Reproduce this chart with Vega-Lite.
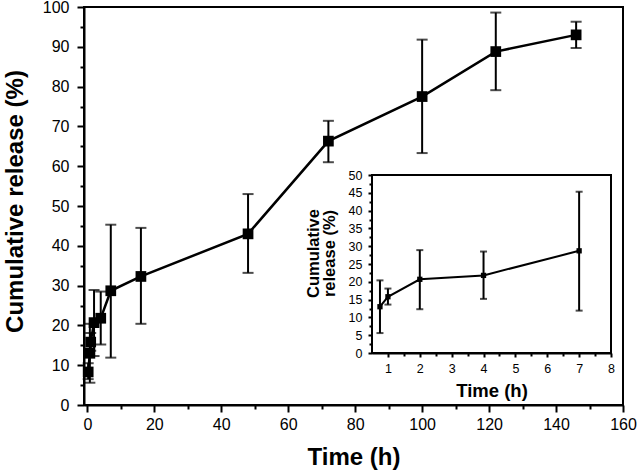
{
  "$schema": "https://vega.github.io/schema/vega-lite/v6.json",
  "width": 539,
  "height": 398,
  "autosize": {"type": "none"},
  "padding": {"left": 84, "top": 7, "right": 15, "bottom": 71},
  "background": "white",
  "config": {
    "view": {"stroke": "black", "strokeWidth": 2},
    "axis": {
      "grid": false,
      "domainColor": "black",
      "domainWidth": 2,
      "tickColor": "black",
      "tickWidth": 2,
      "labelColor": "black",
      "labelFont": "Liberation Sans",
      "titleFont": "Liberation Sans",
      "titleColor": "black",
      "titleFontWeight": "bold",
      "labelFlush": false,
      "labelOverlap": false
    }
  },
  "data": {
    "values": [
      {"t": 0.25, "r": 8.3, "lo": 6.5, "hi": 10.5},
      {"t": 0.75, "r": 13.0, "lo": 5.6, "hi": 20.4},
      {"t": 1, "r": 15.8, "lo": 13.6, "hi": 18.1},
      {"t": 2, "r": 20.7, "lo": 12.3, "hi": 28.9},
      {"t": 4, "r": 21.8, "lo": 15.2, "hi": 28.5},
      {"t": 7, "r": 28.7, "lo": 11.9, "hi": 45.3},
      {"t": 16, "r": 32.3, "lo": 20.4, "hi": 44.5},
      {"t": 48, "r": 43.0, "lo": 33.2, "hi": 53.0},
      {"t": 72, "r": 66.3, "lo": 61.0, "hi": 71.4},
      {"t": 100, "r": 77.5, "lo": 63.3, "hi": 91.8},
      {"t": 122, "r": 88.8, "lo": 79.1, "hi": 98.6},
      {"t": 146, "r": 93.0, "lo": 89.7, "hi": 96.3}
    ]
  },
  "layer": [
    {
      "encoding": {
        "x": {
          "field": "t", "type": "quantitative",
          "scale": {"domain": [-1, 160], "nice": false, "zero": false},
          "axis": {
            "orient": "bottom",
            "values": [0, 10, 20, 30, 40, 50, 60, 70, 80, 90, 100, 110, 120, 130, 140, 150, 160],
            "labelExpr": "datum.value % 20 === 0 ? datum.label : ''",
            "tickSize": {"condition": {"test": "datum.value % 20 === 0", "value": 7}, "value": 4},
            "labelFontSize": 16, "labelPadding": 4,
            "title": "Time (h)", "titleFontSize": 24,
            "titleBaseline": "alphabetic", "titleY": 59
          }
        },
        "y": {
          "field": "r", "type": "quantitative",
          "scale": {"domain": [0, 100], "nice": false, "zero": false},
          "axis": {
            "orient": "left",
            "values": [0, 5, 10, 15, 20, 25, 30, 35, 40, 45, 50, 55, 60, 65, 70, 75, 80, 85, 90, 95, 100],
            "labelExpr": "datum.value % 10 === 0 ? datum.label : ''",
            "tickSize": {"condition": {"test": "datum.value % 10 === 0", "value": 7}, "value": 4},
            "labelFontSize": 16, "labelPadding": 8,
            "title": "Cumulative release (%)", "titleFontSize": 24,
            "titleBaseline": "alphabetic", "titleX": -62, "titleY": 194
          }
        }
      },
      "layer": [
        {
          "mark": {"type": "rule", "color": "black", "strokeWidth": 2},
          "encoding": {
            "y": {
              "field": "lo", "type": "quantitative",
              "scale": {"domain": [0, 100], "nice": false, "zero": false},
              "axis": {
                "orient": "left",
                "values": [0, 5, 10, 15, 20, 25, 30, 35, 40, 45, 50, 55, 60, 65, 70, 75, 80, 85, 90, 95, 100],
                "labelExpr": "datum.value % 10 === 0 ? datum.label : ''",
                "tickSize": {"condition": {"test": "datum.value % 10 === 0", "value": 7}, "value": 4},
                "labelFontSize": 16, "labelPadding": 8,
                "title": "Cumulative release (%)", "titleFontSize": 24,
                "titleBaseline": "alphabetic", "titleX": -62, "titleY": 194
              }
            },
            "y2": {"field": "hi"}
          }
        },
        {
          "mark": {"type": "tick", "orient": "horizontal", "color": "black", "size": 11, "thickness": 2},
          "encoding": {
            "y": {
              "field": "lo", "type": "quantitative",
              "scale": {"domain": [0, 100], "nice": false, "zero": false},
              "axis": {
                "orient": "left",
                "values": [0, 5, 10, 15, 20, 25, 30, 35, 40, 45, 50, 55, 60, 65, 70, 75, 80, 85, 90, 95, 100],
                "labelExpr": "datum.value % 10 === 0 ? datum.label : ''",
                "tickSize": {"condition": {"test": "datum.value % 10 === 0", "value": 7}, "value": 4},
                "labelFontSize": 16, "labelPadding": 8,
                "title": "Cumulative release (%)", "titleFontSize": 24,
                "titleBaseline": "alphabetic", "titleX": -62, "titleY": 194
              }
            }
          }
        },
        {
          "mark": {"type": "tick", "orient": "horizontal", "color": "black", "size": 11, "thickness": 2},
          "encoding": {
            "y": {
              "field": "hi", "type": "quantitative",
              "scale": {"domain": [0, 100], "nice": false, "zero": false},
              "axis": {
                "orient": "left",
                "values": [0, 5, 10, 15, 20, 25, 30, 35, 40, 45, 50, 55, 60, 65, 70, 75, 80, 85, 90, 95, 100],
                "labelExpr": "datum.value % 10 === 0 ? datum.label : ''",
                "tickSize": {"condition": {"test": "datum.value % 10 === 0", "value": 7}, "value": 4},
                "labelFontSize": 16, "labelPadding": 8,
                "title": "Cumulative release (%)", "titleFontSize": 24,
                "titleBaseline": "alphabetic", "titleX": -62, "titleY": 194
              }
            }
          }
        },
        {"mark": {"type": "line", "color": "black", "strokeWidth": 2.5}},
        {"mark": {"type": "point", "shape": "square", "filled": true, "color": "black", "size": 115, "opacity": 1}}
      ]
    },
    {
      "transform": [{"filter": "datum.t >= 0.5 && datum.t <= 7"}],
      "encoding": {
        "x": {
          "field": "t", "type": "quantitative",
          "scale": {"domain": [0.5, 8], "range": [288, 527], "nice": false, "zero": false},
          "axis": {
            "orient": "bottom", "offset": -52,
            "values": [1, 1.5, 2, 2.5, 3, 3.5, 4, 4.5, 5, 5.5, 6, 6.5, 7, 7.5, 8],
            "labelExpr": "datum.value % 1 === 0 ? format(datum.value, 'd') : ''",
            "tickSize": {"condition": {"test": "datum.value % 1 === 0", "value": 4}, "value": 3},
            "labelFontSize": 12.5, "labelPadding": 5,
            "title": "Time (h)", "titleFontSize": 18.5,
            "titleBaseline": "alphabetic", "titleY": 43.5
          }
        },
        "y": {
          "field": "r", "type": "quantitative",
          "scale": {"domain": [0, 50], "range": [346, 168], "nice": false, "zero": false},
          "axis": {
            "orient": "left", "offset": -288,
            "values": [0, 2.5, 5, 7.5, 10, 12.5, 15, 17.5, 20, 22.5, 25, 27.5, 30, 32.5, 35, 37.5, 40, 42.5, 45, 47.5, 50],
            "labelExpr": "datum.value % 5 === 0 ? datum.label : ''",
            "tickSize": {"condition": {"test": "datum.value % 5 === 0", "value": 4}, "value": 3},
            "labelFontSize": 12.5, "labelPadding": 6,
            "title": ["Cumulative", "release (%)"], "titleFontSize": 16.5,
            "titleLineHeight": 16, "titleBaseline": "alphabetic", "titleX": -54, "titleY": 246
          }
        }
      },
      "layer": [
        {
          "mark": {"type": "rect", "fill": "white", "stroke": "black", "strokeWidth": 2},
          "encoding": {
            "x": {
              "datum": 0.5, "type": "quantitative",
              "scale": {"domain": [0.5, 8], "range": [288, 527], "nice": false, "zero": false},
              "axis": {
                "orient": "bottom", "offset": -52,
                "values": [1, 1.5, 2, 2.5, 3, 3.5, 4, 4.5, 5, 5.5, 6, 6.5, 7, 7.5, 8],
                "labelExpr": "datum.value % 1 === 0 ? format(datum.value, 'd') : ''",
                "tickSize": {"condition": {"test": "datum.value % 1 === 0", "value": 4}, "value": 3},
                "labelFontSize": 12.5, "labelPadding": 5,
                "title": "Time (h)", "titleFontSize": 18.5,
                "titleBaseline": "alphabetic", "titleY": 43.5
              }
            },
            "x2": {"datum": 8},
            "y": {
              "datum": 0, "type": "quantitative",
              "scale": {"domain": [0, 50], "range": [346, 168], "nice": false, "zero": false},
              "axis": {
                "orient": "left", "offset": -288,
                "values": [0, 2.5, 5, 7.5, 10, 12.5, 15, 17.5, 20, 22.5, 25, 27.5, 30, 32.5, 35, 37.5, 40, 42.5, 45, 47.5, 50],
                "labelExpr": "datum.value % 5 === 0 ? datum.label : ''",
                "tickSize": {"condition": {"test": "datum.value % 5 === 0", "value": 4}, "value": 3},
                "labelFontSize": 12.5, "labelPadding": 6,
                "title": ["Cumulative", "release (%)"], "titleFontSize": 16.5,
                "titleLineHeight": 16, "titleBaseline": "alphabetic", "titleX": -54, "titleY": 246
              }
            },
            "y2": {"datum": 50}
          }
        },
        {
          "mark": {"type": "rule", "color": "black", "strokeWidth": 2},
          "encoding": {
            "y": {
              "field": "lo", "type": "quantitative",
              "scale": {"domain": [0, 50], "range": [346, 168], "nice": false, "zero": false},
              "axis": {
                "orient": "left", "offset": -288,
                "values": [0, 2.5, 5, 7.5, 10, 12.5, 15, 17.5, 20, 22.5, 25, 27.5, 30, 32.5, 35, 37.5, 40, 42.5, 45, 47.5, 50],
                "labelExpr": "datum.value % 5 === 0 ? datum.label : ''",
                "tickSize": {"condition": {"test": "datum.value % 5 === 0", "value": 4}, "value": 3},
                "labelFontSize": 12.5, "labelPadding": 6,
                "title": ["Cumulative", "release (%)"], "titleFontSize": 16.5,
                "titleLineHeight": 16, "titleBaseline": "alphabetic", "titleX": -54, "titleY": 246
              }
            },
            "y2": {"field": "hi"}
          }
        },
        {
          "mark": {"type": "tick", "orient": "horizontal", "color": "black", "size": 7, "thickness": 2},
          "encoding": {
            "y": {
              "field": "lo", "type": "quantitative",
              "scale": {"domain": [0, 50], "range": [346, 168], "nice": false, "zero": false},
              "axis": {
                "orient": "left", "offset": -288,
                "values": [0, 2.5, 5, 7.5, 10, 12.5, 15, 17.5, 20, 22.5, 25, 27.5, 30, 32.5, 35, 37.5, 40, 42.5, 45, 47.5, 50],
                "labelExpr": "datum.value % 5 === 0 ? datum.label : ''",
                "tickSize": {"condition": {"test": "datum.value % 5 === 0", "value": 4}, "value": 3},
                "labelFontSize": 12.5, "labelPadding": 6,
                "title": ["Cumulative", "release (%)"], "titleFontSize": 16.5,
                "titleLineHeight": 16, "titleBaseline": "alphabetic", "titleX": -54, "titleY": 246
              }
            }
          }
        },
        {
          "mark": {"type": "tick", "orient": "horizontal", "color": "black", "size": 7, "thickness": 2},
          "encoding": {
            "y": {
              "field": "hi", "type": "quantitative",
              "scale": {"domain": [0, 50], "range": [346, 168], "nice": false, "zero": false},
              "axis": {
                "orient": "left", "offset": -288,
                "values": [0, 2.5, 5, 7.5, 10, 12.5, 15, 17.5, 20, 22.5, 25, 27.5, 30, 32.5, 35, 37.5, 40, 42.5, 45, 47.5, 50],
                "labelExpr": "datum.value % 5 === 0 ? datum.label : ''",
                "tickSize": {"condition": {"test": "datum.value % 5 === 0", "value": 4}, "value": 3},
                "labelFontSize": 12.5, "labelPadding": 6,
                "title": ["Cumulative", "release (%)"], "titleFontSize": 16.5,
                "titleLineHeight": 16, "titleBaseline": "alphabetic", "titleX": -54, "titleY": 246
              }
            }
          }
        },
        {"mark": {"type": "line", "color": "black", "strokeWidth": 2}},
        {"mark": {"type": "point", "shape": "square", "filled": true, "color": "black", "size": 28, "opacity": 1}}
      ]
    }
  ],
  "resolve": {"scale": {"x": "independent", "y": "independent"}, "axis": {"x": "independent", "y": "independent"}}
}
